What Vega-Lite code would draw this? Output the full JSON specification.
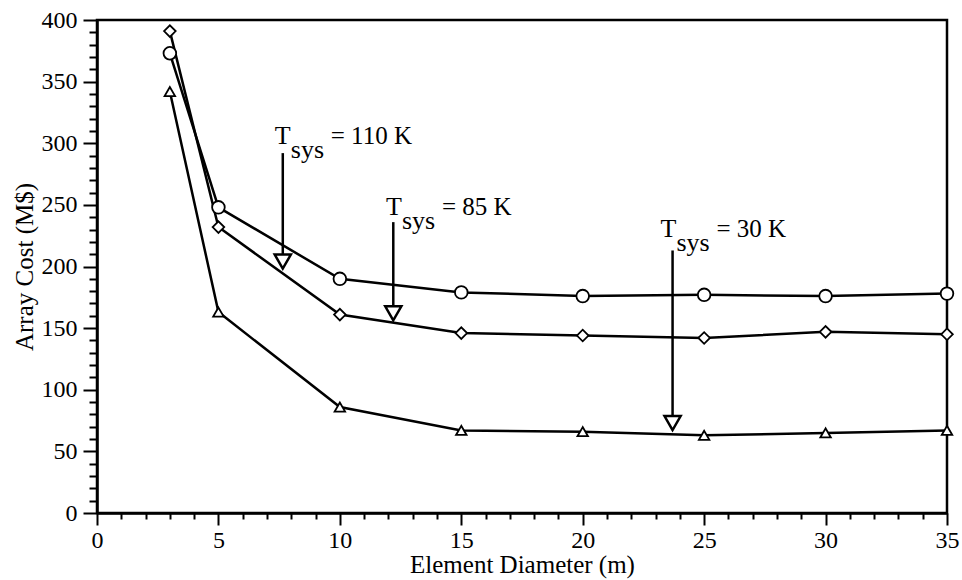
{
  "$schema": "https://vega.github.io/schema/vega-lite/v6.json",
  "width": 850,
  "height": 493,
  "autosize": {"type": "none"},
  "padding": {"left": 97, "top": 20, "right": 15, "bottom": 67},
  "background": "white",
  "config": {
    "view": {"stroke": "black", "strokeWidth": 2.5},
    "font": "Liberation Serif",
    "axis": {"grid": false, "domainColor": "black", "domainWidth": 2.5, "tickColor": "black", "labelColor": "black", "titleColor": "black", "labelFont": "Liberation Serif", "titleFont": "Liberation Serif", "labelFontSize": 24, "titleFontSize": 25, "titleFontWeight": "normal"}
  },
  "datasets": {
    "cost": [
      {"d": 3, "cost": 373, "series": "circle"},
      {"d": 5, "cost": 248, "series": "circle"},
      {"d": 10, "cost": 190, "series": "circle"},
      {"d": 15, "cost": 179, "series": "circle"},
      {"d": 20, "cost": 176, "series": "circle"},
      {"d": 25, "cost": 177, "series": "circle"},
      {"d": 30, "cost": 176, "series": "circle"},
      {"d": 35, "cost": 178, "series": "circle"},
      {"d": 3, "cost": 391, "series": "diamond"},
      {"d": 5, "cost": 232, "series": "diamond"},
      {"d": 10, "cost": 161, "series": "diamond"},
      {"d": 15, "cost": 146, "series": "diamond"},
      {"d": 20, "cost": 144, "series": "diamond"},
      {"d": 25, "cost": 142, "series": "diamond"},
      {"d": 30, "cost": 147, "series": "diamond"},
      {"d": 35, "cost": 145, "series": "diamond"},
      {"d": 3, "cost": 342, "series": "triangle-up"},
      {"d": 5, "cost": 163, "series": "triangle-up"},
      {"d": 10, "cost": 86, "series": "triangle-up"},
      {"d": 15, "cost": 67, "series": "triangle-up"},
      {"d": 20, "cost": 66, "series": "triangle-up"},
      {"d": 25, "cost": 63, "series": "triangle-up"},
      {"d": 30, "cost": 65, "series": "triangle-up"},
      {"d": 35, "cost": 67, "series": "triangle-up"}
    ],
    "arrows": [
      {"x": 7.65, "top": 292, "head": 204},
      {"x": 12.2, "top": 236, "head": 162},
      {"x": 23.7, "top": 213, "head": 73}
    ],
    "notes": [
      {"x": 7.32, "y": 299, "t": "T", "sub": "sys", "rest": "= 110 K"},
      {"x": 11.9, "y": 242, "t": "T", "sub": "sys", "rest": "= 85 K"},
      {"x": 23.2, "y": 224, "t": "T", "sub": "sys", "rest": "= 30 K"}
    ]
  },
  "resolve": {"axis": {"x": "independent", "y": "independent"}},
  "layer": [
    {
      "data": {"name": "cost"},
      "mark": {"type": "line", "color": "black", "strokeWidth": 2.5},
      "encoding": {
        "x": {"field": "d", "type": "quantitative", "scale": {"domain": [0, 35], "nice": false, "zero": false}, "axis": {"values": [0, 5, 10, 15, 20, 25, 30, 35], "tickSize": 12, "tickWidth": 2, "labelPadding": 3, "labelFlush": false, "title": "Element Diameter (m)", "titleBaseline": "alphabetic", "titleY": 59, "orient": "bottom"}},
        "y": {"field": "cost", "type": "quantitative", "scale": {"domain": [0, 400], "nice": false}, "axis": {"values": [0, 50, 100, 150, 200, 250, 300, 350, 400], "tickSize": 14, "tickWidth": 2, "labelPadding": 6, "labelFlush": false, "title": "Array Cost (M$)", "titlePadding": 4, "orient": "left"}},
        "detail": {"field": "series"}
      }
    },
    {
      "data": {"name": "cost"},
      "mark": {"type": "point", "filled": true, "fill": "white", "stroke": "black", "strokeWidth": 1.8, "opacity": 1},
      "encoding": {
        "x": {"field": "d", "type": "quantitative", "axis": {"orient": "bottom", "values": [1, 2, 3, 4, 6, 7, 8, 9, 11, 12, 13, 14, 16, 17, 18, 19, 21, 22, 23, 24, 26, 27, 28, 29, 31, 32, 33, 34], "tickSize": 6, "tickWidth": 2, "labels": false, "domain": false, "title": null}},
        "y": {"field": "cost", "type": "quantitative", "axis": {"orient": "left", "values": [10, 20, 30, 40, 60, 70, 80, 90, 110, 120, 130, 140, 160, 170, 180, 190, 210, 220, 230, 240, 260, 270, 280, 290, 310, 320, 330, 340, 360, 370, 380, 390], "tickSize": 8, "tickWidth": 2, "labels": false, "domain": false, "title": null}},
        "shape": {"field": "series", "type": "nominal", "scale": {"domain": ["circle", "diamond", "triangle-up"], "range": ["circle", "diamond", "triangle-up"]}, "legend": null},
        "size": {"field": "series", "type": "nominal", "scale": {"domain": ["circle", "diamond", "triangle-up"], "range": [160, 110, 140]}, "legend": null}
      }
    },
    {
      "data": {"name": "arrows"},
      "mark": {"type": "rule", "color": "black", "strokeWidth": 2.5},
      "encoding": {
        "x": {"field": "x", "type": "quantitative", "axis": null},
        "y": {"field": "top", "type": "quantitative", "axis": null},
        "y2": {"field": "head"}
      }
    },
    {
      "data": {"name": "arrows"},
      "mark": {"type": "point", "shape": "triangle-down", "filled": true, "fill": "white", "stroke": "black", "strokeWidth": 2.5, "size": 260, "opacity": 1},
      "encoding": {
        "x": {"field": "x", "type": "quantitative", "axis": null},
        "y": {"field": "head", "type": "quantitative", "axis": null}
      }
    },
    {
      "data": {"name": "notes"},
      "mark": {"type": "text", "align": "left", "baseline": "alphabetic", "fontSize": 26, "font": "Liberation Serif", "color": "black"},
      "encoding": {
        "x": {"field": "x", "type": "quantitative", "axis": null},
        "y": {"field": "y", "type": "quantitative", "axis": null},
        "text": {"field": "t"}
      }
    },
    {
      "data": {"name": "notes"},
      "mark": {"type": "text", "align": "left", "baseline": "alphabetic", "fontSize": 26, "font": "Liberation Serif", "color": "black", "dx": 16, "dy": 14},
      "encoding": {
        "x": {"field": "x", "type": "quantitative", "axis": null},
        "y": {"field": "y", "type": "quantitative", "axis": null},
        "text": {"field": "sub"}
      }
    },
    {
      "data": {"name": "notes"},
      "mark": {"type": "text", "align": "left", "baseline": "alphabetic", "fontSize": 25, "font": "Liberation Serif", "color": "black", "dx": 56},
      "encoding": {
        "x": {"field": "x", "type": "quantitative", "axis": null},
        "y": {"field": "y", "type": "quantitative", "axis": null},
        "text": {"field": "rest"}
      }
    }
  ]
}
